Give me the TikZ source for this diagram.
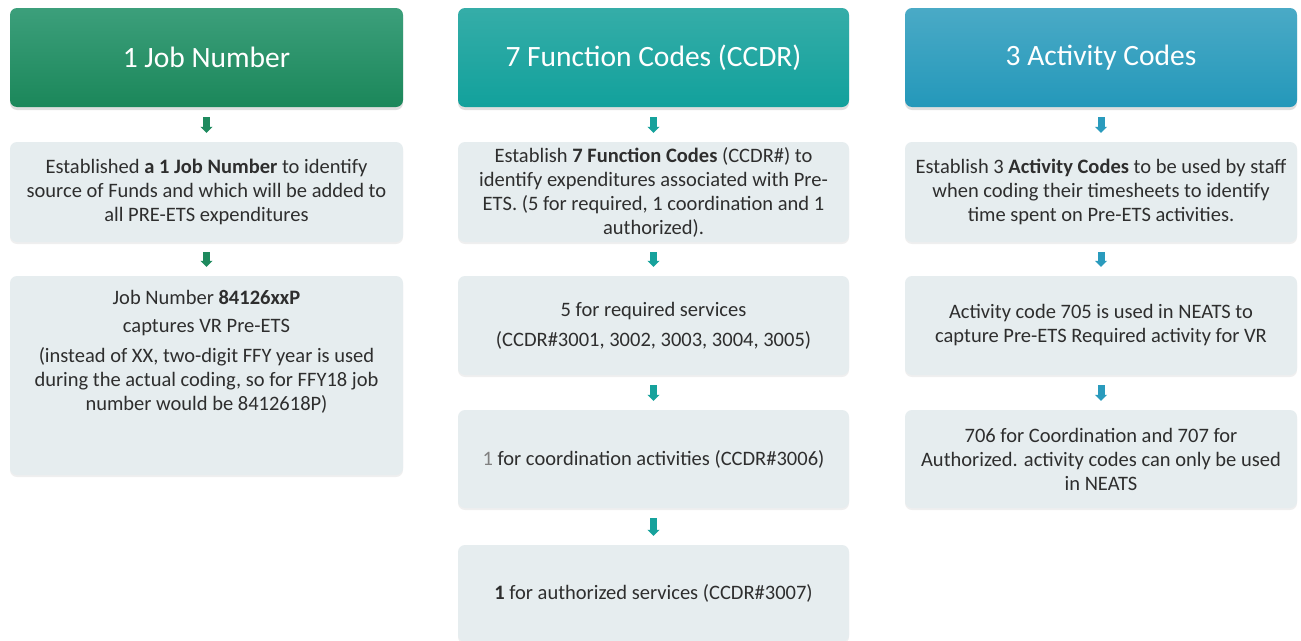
\documentclass[tikz,border=0pt]{standalone}
\usepackage{fontspec}
\setmainfont{Carlito}
\usetikzlibrary{shadows,arrows.meta}
\definecolor{gTop}{HTML}{3C9F7B}
\definecolor{gBot}{HTML}{1B875A}
\definecolor{tTop}{HTML}{35ADA8}
\definecolor{tBot}{HTML}{12A19C}
\definecolor{bTop}{HTML}{4AAAC6}
\definecolor{bBot}{HTML}{2498BA}
\definecolor{boxfill}{HTML}{E6EDEF}
\definecolor{txt}{HTML}{2E2E2E}
\definecolor{gArr}{HTML}{1E8A5E}
\definecolor{tArr}{HTML}{16A29C}
\definecolor{bArr}{HTML}{2A9BBD}
\tikzset{
  head/.style={rounded corners=7pt, minimum height=99pt, inner sep=0pt,
    text=white, font=\fontsize{29.5}{34}\selectfont,
    drop shadow={shadow xshift=0pt, shadow yshift=-3pt, opacity=0.25}},
  bodybox/.style={rounded corners=7pt, fill=boxfill, inner sep=0pt,
    text=txt, align=center, font=\fontsize{20.5}{24}\selectfont,
    drop shadow={shadow xshift=0pt, shadow yshift=-2pt, opacity=0.12, fill=gray}},
  bodytext/.style={text=txt, align=center, inner sep=0pt, font=\fontsize{20.5}{24}\selectfont},
  conn/.style={line width=7pt, -{Triangle[width=12pt,length=6pt]}, shorten <=10pt, shorten >=9pt}
}
\begin{document}
\begin{tikzpicture}[x=1pt,y=-1pt]
\useasboundingbox[fill=white] (0,0) rectangle (1301,640);
% headers
\node[head, minimum width=393pt, top color=gTop, bottom color=gBot] (h1) at (206.5,57.5) {1 Job Number};
\node[head, minimum width=391pt, top color=tTop, bottom color=tBot] (h2) at (653.5,57.5) {7 Function Codes (CCDR)};
\node[head, minimum width=392pt, top color=bTop, bottom color=bBot] (h3) at (1101,57.5) {3 Activity Codes};
% column 1
\node[bodybox, minimum width=393pt, minimum height=100pt] (a1) at (206.5,192)
  {Established \textbf{a 1 Job Number} to identify\\source of Funds and which will be added to\\all PRE-ETS expenditures};
\node[bodybox, minimum width=393pt, minimum height=199pt] (a2) at (206.5,375.5) {};
\node[bodytext, anchor=north] (a2t) at (206.5,290)
  {Job Number \textbf{84126xxP}\\[4pt]captures VR Pre-ETS\\[6pt](instead of XX, two-digit FFY year is used\\during the actual coding, so for FFY18 job\\number would be 8412618P)};
% column 2
\node[bodybox, minimum width=391pt, minimum height=100pt] (c1) at (653.5,192)
  {Establish \textbf{7 Function Codes} (CCDR\#) to\\identify expenditures associated with Pre-\\ETS. (5 for required, 1 coordination and 1\\authorized).};
\node[bodybox, minimum width=391pt, minimum height=99pt] (c2) at (653.5,325.5)
  {5 for required services\\[6pt](CCDR\#3001, 3002, 3003, 3004, 3005)};
\node[bodybox, minimum width=391pt, minimum height=98pt] (c3) at (653.5,459)
  {\textcolor{gray}{1} for coordination activities (CCDR\#3006)};
\node[bodybox, minimum width=391pt, minimum height=97pt] (c4) at (653.5,593.5)
  {\textbf{1} for authorized services (CCDR\#3007)};
% column 3
\node[bodybox, minimum width=392pt, minimum height=100pt] (d1) at (1101,192)
  {Establish 3 \textbf{Activity Codes} to be used by staff\\when coding their timesheets to identify\\time spent on Pre-ETS activities.};
\node[bodybox, minimum width=392pt, minimum height=99pt] (d2) at (1101,325.5)
  {Activity code 705 is used in NEATS to\\capture Pre-ETS Required activity for VR};
\node[bodybox, minimum width=392pt, minimum height=98pt] (d3) at (1101,459)
  {706 for Coordination and 707 for\\Authorized. activity codes can only be used\\in NEATS};
% connectors
\draw[conn, gArr] (h1) -- (a1);
\draw[conn, gArr] (a1) -- (a2);
\draw[conn, tArr] (h2) -- (c1);
\draw[conn, tArr] (c1) -- (c2);
\draw[conn, tArr] (c2) -- (c3);
\draw[conn, tArr] (c3) -- (c4);
\draw[conn, bArr] (h3) -- (d1);
\draw[conn, bArr] (d1) -- (d2);
\draw[conn, bArr] (d2) -- (d3);
\end{tikzpicture}
\end{document}
